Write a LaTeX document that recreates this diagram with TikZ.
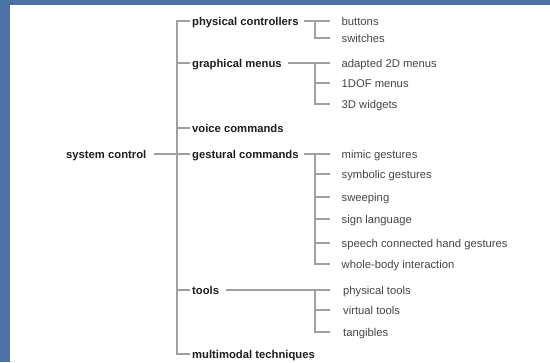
\documentclass[tikz,border=0pt]{standalone}
\usepackage{fontspec}
\setmainfont{Liberation Sans}
\definecolor{bgblue}{RGB}{77,114,166}
\definecolor{linegray}{RGB}{160,160,160}
\definecolor{boldtxt}{RGB}{30,30,30}
\definecolor{regtxt}{RGB}{70,70,70}
\begin{document}
\begin{tikzpicture}[x=1bp,y=-1bp,
  lbl/.style={anchor=west,inner sep=0pt,text height=9bp,text depth=0pt,font=\fontsize{11.3}{13}\selectfont},
  head/.style={lbl,text=boldtxt,font=\fontsize{11.3}{13}\selectfont\bfseries},
  leaf/.style={lbl,text=regtxt},
  conn/.style={draw=linegray,line width=1.1bp}]
\fill[bgblue] (0,0) rectangle (550,362);
\fill[white] (10,5) rectangle (550,362);
\useasboundingbox (0,0) rectangle (550,362);
% root
\node[head] (sc) at (66,154) {system control};
% level 1
\node[head] (pc) at (192,21) {physical controllers};
\node[head] (gm) at (192,63) {graphical menus};
\node[head] (vc) at (192,128) {voice commands};
\node[head] (gc) at (192,154) {gestural commands};
\node[head] (tl) at (192,290) {tools};
\node[head] (mt) at (192,354) {multimodal techniques};
% level 2
\node[leaf] (b) at (341.5,21) {buttons};
\node[leaf] (sw) at (341.5,38) {switches};
\node[leaf] (a2d) at (341.5,63) {adapted 2D menus};
\node[leaf] (dof) at (341.5,83) {1DOF menus};
\node[leaf] (w3d) at (341.5,104) {3D widgets};
\node[leaf] (mg) at (341.5,154) {mimic gestures};
\node[leaf] (sg) at (341.5,174) {symbolic gestures};
\node[leaf] (swp) at (341.5,197) {sweeping};
\node[leaf] (sl) at (341.5,219) {sign language};
\node[leaf] (sp) at (341.5,243) {speech connected hand gestures};
\node[leaf] (wb) at (341.5,264) {whole-body interaction};
\node[leaf] (pt) at (343,290) {physical tools};
\node[leaf] (vt) at (343,310) {virtual tools};
\node[leaf] (tg) at (343,332) {tangibles};
% junction coordinates
\coordinate (tx) at (177,0);
\coordinate (jx) at (315,0);
% trunk
\draw[conn] ([xshift=8]sc.east) -- (tx |- sc.east);
\draw[conn] ([xshift=-2]pc.west) -| (tx |- mt.west) -- ([xshift=-2]mt.west);
\draw[conn] (tx |- gm.west) -- ([xshift=-2]gm.west);
\draw[conn] (tx |- vc.west) -- ([xshift=-2]vc.west);
\draw[conn] (tx |- gc.west) -- ([xshift=-2]gc.west);
\draw[conn] (tx |- tl.west) -- ([xshift=-2]tl.west);
% physical controllers
\draw[conn] ([xshift=5]pc.east) -- ([xshift=-11.5]b.west);
\draw[conn] (jx |- b.west) |- ([xshift=-11.5]sw.west);
% graphical menus
\draw[conn] ([xshift=6]gm.east) -- ([xshift=-11.5]a2d.west);
\draw[conn] (jx |- a2d.west) |- ([xshift=-11.5]w3d.west);
\draw[conn] (jx |- dof.west) -- ([xshift=-11.5]dof.west);
% gestural commands
\draw[conn] ([xshift=5]gc.east) -- ([xshift=-11.5]mg.west);
\draw[conn] (jx |- mg.west) |- ([xshift=-11.5]wb.west);
\foreach \n in {sg,swp,sl,sp}
  \draw[conn] (jx |- \n.west) -- ([xshift=-11.5]\n.west);
% tools
\draw[conn] ([xshift=7]tl.east) -- ([xshift=-13]pt.west);
\draw[conn] (jx |- pt.west) |- ([xshift=-13]tg.west);
\draw[conn] (jx |- vt.west) -- ([xshift=-13]vt.west);
\end{tikzpicture}
\end{document}
